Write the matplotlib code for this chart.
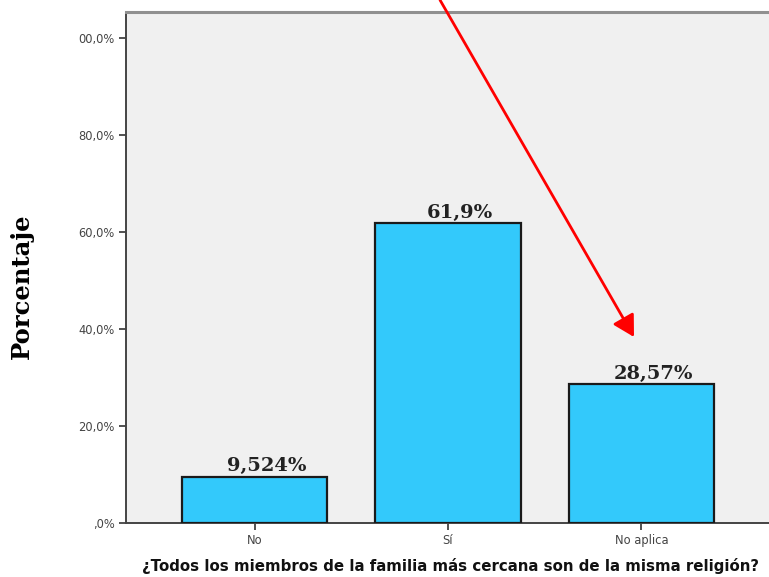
import matplotlib
matplotlib.use("Agg")
import matplotlib.pyplot as plt

categories = ["No", "Sí", "No aplica"]
values = [9.524, 61.9, 28.57]
value_labels = ["9,524%", "61,9%", "28,57%"]
ytick_values = [0, 20, 40, 60, 80, 100]
ytick_labels = [",0%", "20,0%", "40,0%", "60,0%", "80,0%", "00,0%"]

W, H, DPI = 769, 577, 100
fig = plt.figure(figsize=(W / DPI, H / DPI), dpi=DPI, facecolor="white")
ax = fig.add_axes([126 / W, 1 - 523 / H, 1 - 126 / W, (523 - 12) / H])
ax.set_facecolor("#f0f0f0")

x = list(range(len(categories)))
bars = ax.bar(x, values, width=0.75, color="#33c9fb", edgecolor="#1a1a1a",
              linewidth=1.6, zorder=3)

ax.set_xlim(-0.665, 2.66)
ax.set_ylim(0, 105.4)

ax.set_yticks(ytick_values)
ax.set_yticklabels(ytick_labels)
ax.set_xticks(x)
ax.set_xticklabels(categories)
ax.tick_params(axis="both", direction="out", length=5, width=1.2,
               color="#333333", labelsize=8.3, labelcolor="#444444", pad=3)

for side in ("left", "bottom"):
    ax.spines[side].set_color("#444444")
    ax.spines[side].set_linewidth(1.4)
ax.spines["top"].set_color("#909090")
ax.spines["top"].set_linewidth(2.2)
ax.spines["right"].set_visible(False)

for xi, v, lab in zip(x, values, value_labels):
    ax.annotate(lab, (xi, v), xytext=(8.5, 1), textcoords="offset points",
                ha="center", va="bottom", fontsize=14, fontweight="bold",
                family="DejaVu Serif", color="#222222", zorder=4)

fig.text(22 / W, 1 - 286 / H, "Porcentaje", rotation=90, ha="center",
         va="center", fontsize=17.5, fontweight="bold",
         family="DejaVu Serif", color="black")
fig.text(450 / W, 1 - 566 / H,
         "¿Todos los miembros de la familia más cercana son de la misma religión?",
         ha="center", va="center", fontsize=10.8, fontweight="bold",
         family="DejaVu Sans", color="#111111")

# red pointer arrow toward the "No aplica" bar
fig.patches.append(matplotlib.patches.FancyArrowPatch(
    (440 / W, 1.0), (634 / W, 1 - 337 / H), transform=fig.transFigure,
    arrowstyle="-|>,head_length=8,head_width=4.5", mutation_scale=1.6,
    color="#ff0000", linewidth=2.0, shrinkA=0, shrinkB=0))

fig.savefig("out.png", dpi=DPI, facecolor="white")
